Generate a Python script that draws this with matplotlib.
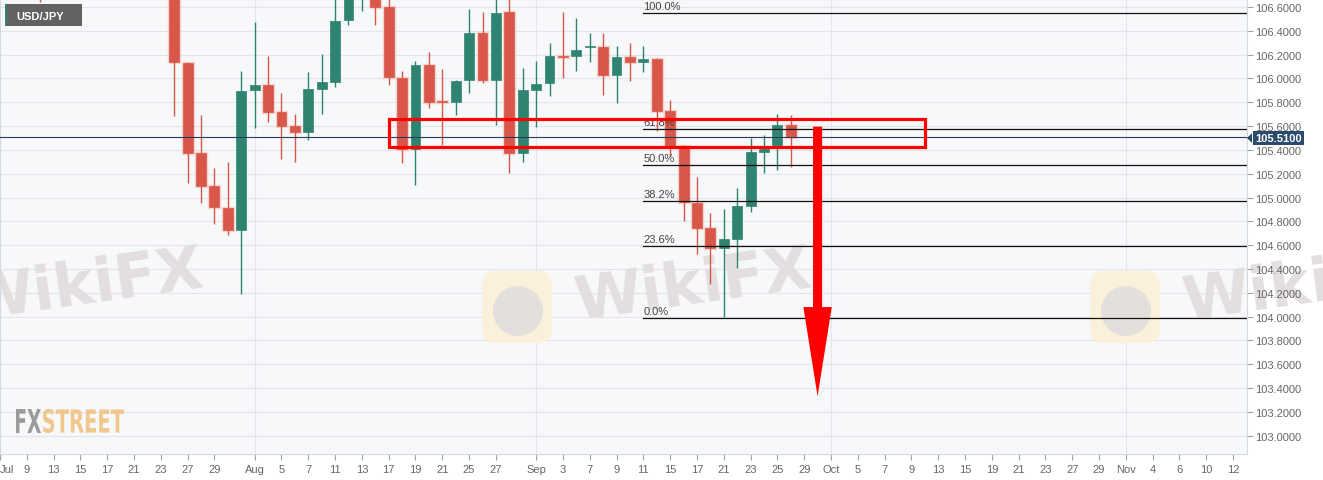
import numpy as np
import pandas as pd
import matplotlib
matplotlib.use('Agg')
import matplotlib.pyplot as plt
from matplotlib.patches import Rectangle, Polygon, FancyBboxPatch, Circle, PathPatch
from matplotlib.textpath import TextPath
from matplotlib.font_manager import FontProperties
from matplotlib.transforms import Affine2D, IdentityTransform

plt.rcParams['font.family'] = ['Liberation Sans', 'DejaVu Sans']

# ---------------- data ----------------
dates = ['2020-07-10', '2020-07-24', '2020-07-27', '2020-07-28', '2020-07-29', '2020-07-30',
         '2020-07-31', '2020-08-03', '2020-08-04', '2020-08-05', '2020-08-06', '2020-08-07',
         '2020-08-10', '2020-08-11', '2020-08-12', '2020-08-13', '2020-08-14', '2020-08-17',
         '2020-08-18', '2020-08-19', '2020-08-20', '2020-08-21', '2020-08-24', '2020-08-25',
         '2020-08-26', '2020-08-27', '2020-08-28', '2020-08-31', '2020-09-01', '2020-09-02',
         '2020-09-03', '2020-09-04', '2020-09-07', '2020-09-08', '2020-09-09', '2020-09-10',
         '2020-09-11', '2020-09-14', '2020-09-15', '2020-09-16', '2020-09-17', '2020-09-18',
         '2020-09-21', '2020-09-22', '2020-09-23', '2020-09-24', '2020-09-25', '2020-09-28']
opens = [107.20, 106.88, 106.13, 105.37, 105.10, 104.91,
         104.73, 105.90, 105.945, 105.715, 105.60, 105.55,
         105.915, 105.97, 106.49, 106.90, 106.95, 106.60,
         106.005, 105.405, 106.115, 105.81, 105.80, 105.985,
         106.385, 105.99, 106.56, 105.37, 105.905, 105.96,
         106.19, 106.185, 106.26, 106.265, 106.03, 106.18,
         106.135, 106.165, 105.725, 105.435, 104.95, 104.74,
         104.575, 104.65, 104.93, 105.385, 105.44, 105.61]
highs = [107.30, 106.95, 106.14, 105.69, 105.245, 105.30,
         106.065, 106.47, 106.19, 105.875, 105.70, 106.05,
         106.205, 106.70, 107.05, 107.04, 107.00, 106.70,
         106.065, 106.15, 106.22, 106.075, 105.99, 106.58,
         106.555, 106.95, 106.95, 106.09, 106.15, 106.30,
         106.555, 106.505, 106.385, 106.385, 106.275, 106.30,
         106.27, 106.17, 105.815, 105.44, 105.17, 104.87,
         104.90, 105.08, 105.50, 105.525, 105.70, 105.695]
lows = [106.64, 105.685, 105.12, 104.95, 104.78, 104.685,
        104.19, 105.58, 105.635, 105.325, 105.30, 105.48,
        105.705, 105.925, 106.445, 106.565, 106.445, 105.945,
        105.29, 105.105, 105.75, 105.44, 105.69, 105.88,
        105.96, 105.61, 105.205, 105.295, 105.59, 105.85,
        106.00, 106.06, 106.135, 105.865, 105.79, 105.98,
        106.055, 105.555, 105.35, 104.805, 104.525, 104.275,
        103.995, 104.41, 104.875, 105.205, 105.235, 105.26]
closes = [106.90, 106.135, 105.375, 105.10, 104.92, 104.73,
          105.895, 105.945, 105.72, 105.60, 105.55, 105.915,
          105.97, 106.485, 106.92, 106.95, 106.60, 106.01,
          105.405, 106.115, 105.805, 105.80, 105.975, 106.385,
          105.985, 106.55, 105.37, 105.905, 105.95, 106.185,
          106.18, 106.24, 106.27, 106.03, 106.18, 106.135,
          106.16, 105.73, 105.435, 104.96, 104.74, 104.575,
          104.65, 104.925, 105.385, 105.41, 105.61, 105.51]

tick_dates = ['2020-07-07', '2020-07-09', '2020-07-13', '2020-07-15', '2020-07-17', '2020-07-21',
              '2020-07-23', '2020-07-27', '2020-07-29', '2020-08-03', '2020-08-05', '2020-08-07',
              '2020-08-11', '2020-08-13', '2020-08-17', '2020-08-19', '2020-08-21', '2020-08-25',
              '2020-08-27', '2020-09-01', '2020-09-03', '2020-09-07', '2020-09-09', '2020-09-11',
              '2020-09-15', '2020-09-17', '2020-09-21', '2020-09-23', '2020-09-25', '2020-09-29',
              '2020-10-01', '2020-10-05', '2020-10-07', '2020-10-09', '2020-10-13', '2020-10-15',
              '2020-10-19', '2020-10-21', '2020-10-23', '2020-10-27', '2020-10-29', '2020-11-02',
              '2020-11-04', '2020-11-06', '2020-11-10', '2020-11-12']
tick_labels = ['Jul', '9', '13', '15', '17', '21', '23', '27', '29', 'Aug', '5', '7', '11', '13',
               '17', '19', '21', '25', '27', 'Sep', '3', '7', '9', '11', '15', '17', '21', '23',
               '25', '29', 'Oct', '5', '7', '9', '13', '15', '19', '21', '23', '27', '29', 'Nov',
               '4', '6', '10', '12']
month_starts = ['2020-08-03', '2020-09-01', '2020-10-01', '2020-11-02']

price_ticks = [103.0, 103.2, 103.4, 103.6, 103.8, 104.0, 104.2, 104.4, 104.6, 104.8,
               105.0, 105.2, 105.4, 105.6, 105.8, 106.0, 106.2, 106.4, 106.6]

fib_high = 106.55
fib_low = 103.99
fib_ratios = [1.0, 0.618, 0.5, 0.382, 0.236, 0.0]
fib_start = '2020-09-11'

zone_low, zone_high = 105.427, 105.659
zone_start, zone_end = '2020-08-17', '2020-10-12'
arrow_date = '2020-09-30'
arrow_from, arrow_head_base, arrow_tip = 105.595, 104.08, 103.33
last_price = 105.51
symbol = 'USD/JPY'

# ---------------- helpers ----------------
bdays = pd.bdate_range('2020-07-07', '2020-11-30')
bidx = {d.strftime('%Y-%m-%d'): i for i, d in enumerate(bdays)}
def di(s):
    return bidx[s]

W, H = 1323, 481
fig = plt.figure(figsize=(W / 100, H / 100), dpi=100)
fig.patch.set_facecolor('white')

ax = fig.add_axes([0, 26 / H, 1247 / W, 455 / H])
ax.set_facecolor('#f7f8fa')
ax.set_xlim(0.023, 93.04)
ax.set_ylim(102.846, 106.667)

GREEN = '#2e8470'
RED = '#d9574a'

# grid
for p in price_ticks:
    ax.axhline(p, color='#e3e5e9', lw=0.8, zorder=0.5)
for m in month_starts:
    ax.axvline(di(m), color='#e3e5e9', lw=0.8, zorder=0.5)

# watermarks
def wm_text(xpix, ypix):
    ax.text(xpix, H - ypix, 'WikiFX', transform=IdentityTransform(), fontsize=44,
            family='DejaVu Sans', weight='bold', color='#e4dfdf', rotation=8,
            rotation_mode='anchor', ha='left', va='baseline', zorder=0.6, clip_on=False)

def wm_logo(xpix, ypix):
    box = FancyBboxPatch((xpix, H - ypix - 72), 70, 72, boxstyle='round,pad=0,rounding_size=14',
                         transform=IdentityTransform(), facecolor='#fbf1da', edgecolor='none',
                         zorder=0.55, clip_on=True)
    ax.add_patch(box)
    box.set_clip_path(ax.patch)
    c = Circle((xpix + 36, H - ypix - 40), 25, transform=IdentityTransform(),
               facecolor='#e3dfdc', edgecolor='none', zorder=0.56)
    ax.add_patch(c)
    c.set_clip_path(ax.patch)

for k in range(3):
    wm_text(-31 + 608 * k, 320)
for k in range(1, 3):
    wm_logo(482 + 608 * (k - 1), 272)

# candles
for d, o, h, l, c in zip(dates, opens, highs, lows, closes):
    x = di(d)
    col = GREEN if c >= o else RED
    ax.vlines(x, l, h, color=col, lw=1.0, zorder=3)
    bot = min(o, c)
    ht = max(abs(c - o), 0.012)
    if col == RED:
        ax.add_patch(Rectangle((x - 0.37, bot), 0.74, ht, facecolor='none',
                               edgecolor='#f3b5a5', lw=2.5, alpha=0.5, zorder=2.9))
    ax.add_patch(Rectangle((x - 0.37, bot), 0.74, ht, facecolor=col, edgecolor=col,
                           lw=0.5, zorder=3.1))

# fib levels
xs = di(fib_start)
for r in fib_ratios:
    lvl = fib_low + (fib_high - fib_low) * r
    ax.plot([xs, 93.04], [lvl, lvl], color='#111111', lw=0.9, zorder=4)
    ax.annotate(f'{r * 100:.1f}%', (xs, lvl), xytext=(0, 1.5), textcoords='offset points',
                fontsize=8, color='#444444', ha='left', va='bottom', zorder=4)

# last price line
ax.axhline(last_price, color='#2a3d58', lw=0.8, zorder=3.5)

# red zone
ax.add_patch(Rectangle((di(zone_start), zone_low), di(zone_end) - di(zone_start),
                       zone_high - zone_low, facecolor='none', edgecolor='#ff0000',
                       lw=2.3, zorder=5))

# red arrow
xa = di(arrow_date)
sw, hw = 0.34, 1.06
arrow = Polygon([[xa - sw, arrow_from], [xa + sw, arrow_from], [xa + sw, arrow_head_base],
                 [xa + hw, arrow_head_base], [xa, arrow_tip], [xa - hw, arrow_head_base],
                 [xa - sw, arrow_head_base]], closed=True, facecolor='#ff0000',
                edgecolor='none', zorder=5)
ax.add_patch(arrow)

# axes styling
for s in ax.spines.values():
    s.set_color('#d5d9df')
    s.set_linewidth(0.8)
ax.yaxis.tick_right()
ax.set_yticks(price_ticks)
ax.set_yticklabels([f'{p:.4f}' for p in price_ticks])
ax.set_xticks([di(t) for t in tick_dates])
ax.set_xticklabels(tick_labels)
ax.tick_params(axis='both', length=4, width=0.8, color='#a0a4aa', labelcolor='#666666',
               labelsize=8)
ax.tick_params(axis='y', pad=2)
ax.tick_params(axis='x', pad=3)
ax.get_xticklabels()[0].set_ha('left')

# price label
fig.text(1255 / W, 1 - 139 / H, f'{last_price:.4f}', ha='left', va='center', fontsize=8,
         weight='bold', color='white',
         bbox=dict(boxstyle='square,pad=0.22', facecolor='#2c4a6e', edgecolor='none'))
fig.add_artist(Polygon([[1247, H - 139], [1252, H - 134], [1252, H - 144]], closed=True,
                       transform=IdentityTransform(), facecolor='#2c4a6e', edgecolor='none'))

# symbol box
fig.add_artist(Rectangle((5, H - 27), 77, 22, transform=IdentityTransform(),
                         facecolor='#626262', edgecolor='none'))
fig.add_artist(Rectangle((5, H - 27), 2, 22, transform=IdentityTransform(),
                         facecolor='#2e8470', edgecolor='none'))
fig.text(16 / W, 1 - 16.5 / H, symbol, ha='left', va='center', fontsize=8, weight='bold',
         color='white')

# FXSTREET logo
fp = FontProperties(family='DejaVu Sans', weight='bold')
def logo_part(txt, x0, x1, y0, y1, color):
    tp = TextPath((0, 0), txt, size=100, prop=fp)
    ext = tp.get_extents()
    tr = (Affine2D().translate(-ext.x0, -ext.y0)
          .scale((x1 - x0) / ext.width, (y1 - y0) / ext.height)
          .translate(x0, H - y1))
    fig.add_artist(PathPatch(tp, transform=tr, facecolor=color, edgecolor='none'))

logo_part('FX', 16, 41, 410, 434, '#9b9b9b')
logo_part('STREET', 43, 124, 410, 434, '#f1c78e')

fig.savefig('out.png', dpi=100)
